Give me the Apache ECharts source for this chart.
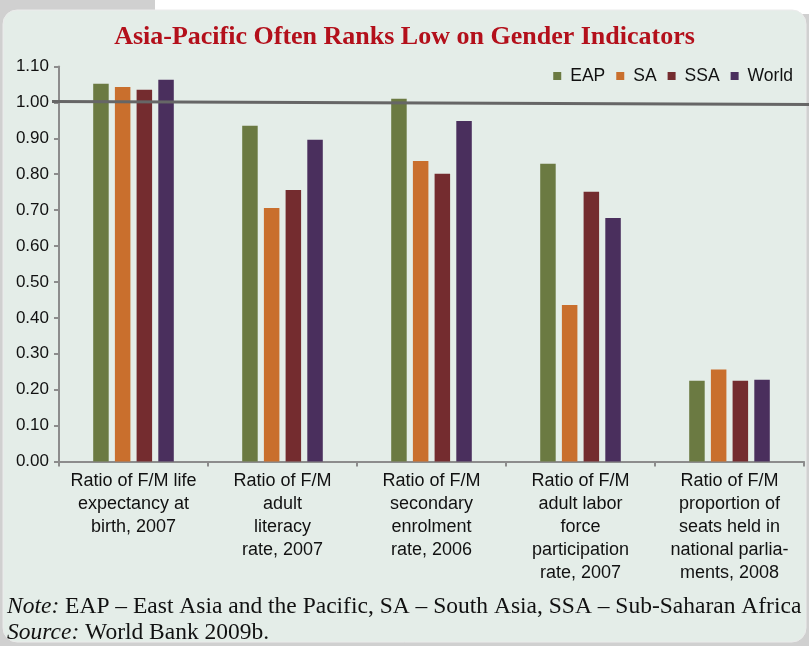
<!DOCTYPE html>
<html lang="en">
<head>
<meta charset="UTF-8">
<title>Asia-Pacific Often Ranks Low on Gender Indicators</title>
<script src="https://cdn.jsdelivr.net/npm/echarts@6/dist/echarts.min.js"></script>
<style>
	html, body { margin: 0; padding: 0; background: #d0d0d0; }
	#chart { width: 809px; height: 646px; }
</style>
</head>
<body>
	<div id="chart"></div>
	<script type="text/javascript">
		// 指标分类
		var categories = [
			'Ratio of F/M life\nexpectancy at\nbirth, 2007',
			'Ratio of F/M\nadult\nliteracy\nrate, 2007',
			'Ratio of F/M\nsecondary\nenrolment\nrate, 2006',
			'Ratio of F/M\nadult labor\nforce\nparticipation\nrate, 2007',
			'Ratio of F/M\nproportion of\nseats held in\nnational parlia-\nments, 2008'
		];
		var seriesNames = ['EAP', 'SA', 'SSA', 'World'];
		var eap = [1.052, 0.935, 1.010, 0.829, 0.225];
		var sa = [1.043, 0.706, 0.837, 0.436, 0.256];
		var ssa = [1.035, 0.756, 0.801, 0.751, 0.225];
		var world = [1.063, 0.896, 0.948, 0.678, 0.228];
		var parityLevel = 1.0;
		var colors = ['#6b7a42', '#c96f2d', '#742c2f', '#4a2f5d'];

		var mychart = echarts.init(document.getElementById('chart'));

		function barSeries(name, data, color) {
			return {
				name: name,
				type: 'bar',
				data: data,
				barWidth: 15.5,
				barGap: '40%',
				itemStyle: { color: color }
			};
		}

		var option = {
			backgroundColor: '#d0d0d0',
			animation: false,
			title: {
				text: 'Asia-Pacific Often Ranks Low on Gender Indicators',
				left: 'center',
				top: 19,
				textStyle: {
					fontFamily: 'Liberation Serif',
					fontWeight: 'bold',
					fontSize: 26,
					color: '#b3101b'
				}
			},
			legend: {
				data: seriesNames,
				right: 11,
				top: 62,
				icon: 'rect',
				itemWidth: 8,
				itemHeight: 8,
				itemGap: 11,
				textStyle: { fontFamily: 'Liberation Sans', fontSize: 17.5, color: '#111', padding: [0, 0, 0, 4] }
			},
			grid: { left: 59, right: 5, top: 66.5, bottom: 184.5 },
			xAxis: {
				type: 'category',
				data: categories,
				axisLine: { lineStyle: { color: '#8c8c8c', width: 2 } },
				axisTick: { show: true, length: 5, lineStyle: { color: '#8c8c8c', width: 2 } },
				axisLabel: {
					interval: 0,
					margin: 8,
					fontFamily: 'Liberation Sans',
					fontSize: 18,
					lineHeight: 23,
					color: '#111'
				}
			},
			yAxis: {
				type: 'value',
				min: 0,
				max: 1.1,
				interval: 0.1,
				splitLine: { show: false },
				axisLine: { show: true, lineStyle: { color: '#8c8c8c', width: 2 } },
				axisTick: { show: true, length: 5, lineStyle: { color: '#8c8c8c', width: 2 } },
				axisLabel: {
					margin: 10,
					fontFamily: 'Liberation Sans',
					fontSize: 17,
					color: '#111',
					formatter: function (v) { return v.toFixed(2); }
				}
			},
			series: [
				barSeries('EAP', eap, colors[0]),
				barSeries('SA', sa, colors[1]),
				barSeries('SSA', ssa, colors[2]),
				barSeries('World', world, colors[3])
			]
		};
		mychart.setOption(option);

		// 背景面板、1.0 参考线和注释
		var yParity = mychart.convertToPixel({ yAxisIndex: 0 }, parityLevel);
		var xAxisStart = mychart.convertToPixel({ xAxisIndex: 0 }, 0) - 81.5;
		mychart.setOption({
			graphic: [
				{ type: 'rect', z: -10, shape: { x: 155, y: 0, width: 654, height: 14 }, style: { fill: '#ffffff' } },
				{
					type: 'rect', z: -9,
					shape: { x: 3, y: 10, width: 803, height: 632, r: [14, 14, 14, 14] },
					style: { fill: '#e4ede8', stroke: '#ebebeb', lineWidth: 1 }
				},
				{
					type: 'line', z: 10,
					shape: { x1: xAxisStart, y1: yParity - 1, x2: 809, y2: yParity + 2 },
					style: { stroke: '#666666', lineWidth: 3 }
				},
				{
					type: 'text', left: 7, top: 595,
					style: {
						text: '{i|Note:} EAP – East Asia and the Pacific, SA – South Asia, SSA – Sub-Saharan Africa',
						font: '23.5px "Liberation Serif"',
						fill: '#111',
						rich: { i: { fontStyle: 'italic', fontFamily: 'Liberation Serif', fontSize: 23.5 } }
					}
				},
				{
					type: 'text', left: 7, top: 621,
					style: {
						text: '{i|Source:} World Bank 2009b.',
						font: '23.5px "Liberation Serif"',
						fill: '#111',
						rich: { i: { fontStyle: 'italic', fontFamily: 'Liberation Serif', fontSize: 23.5 } }
					}
				}
			]
		});
	</script>
</body>
</html>
